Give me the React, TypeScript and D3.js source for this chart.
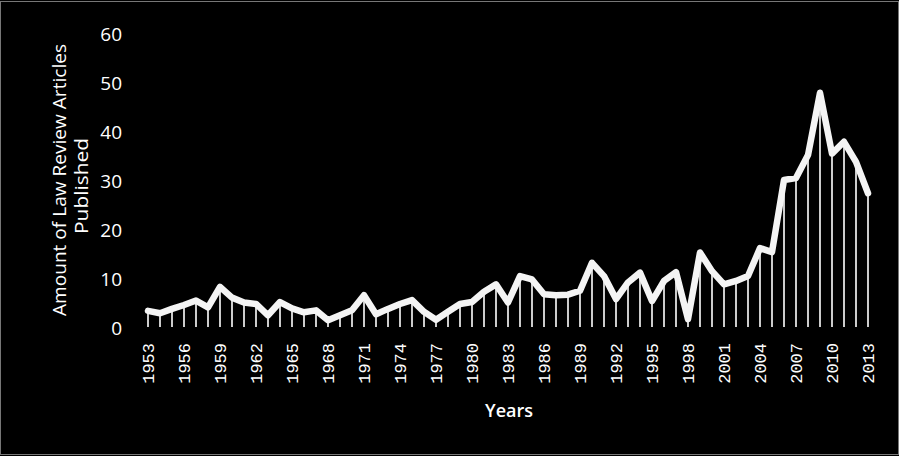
import React from 'react';
import * as d3 from 'd3';

// years 1953..2013, one value per year
const years: number[] = d3.range(1953, 2014);
const articles: number[] = [
  3.5, 3.0, 3.9, 4.7, 5.6, 4.2, 8.4, 6.2, 5.2, 4.9,
  2.6, 5.3, 4.0, 3.2, 3.6, 1.6, 2.6, 3.6, 6.7, 2.8,
  3.9, 4.9, 5.7, 3.3, 1.7, 3.3, 4.9, 5.3, 7.4, 8.9,
  5.2, 10.6, 9.9, 6.9, 6.7, 6.8, 7.6, 13.3, 10.6, 5.9,
  9.3, 11.3, 5.5, 9.6, 11.4, 1.8, 15.4, 11.6, 8.9, 9.6,
  10.6, 16.3, 15.5, 30.2, 30.6, 35.3, 48.0, 35.6, 38.0, 33.9,
  27.5,
];
const yTicks: number[] = [0, 10, 20, 30, 40, 50, 60];
const xTickYears: number[] = d3.range(1953, 2014, 3);

const W = 899;
const H = 456;

const App: React.FC = () => {
  const x = d3.scaleLinear().domain([1953, 2013]).range([148, 868]);
  const y = d3.scaleLinear().domain([0, 60]).range([328, 34]);

  const points = years.map((yr, i) => ({ yr, v: articles[i] }));
  const line = d3.line<{ yr: number; v: number }>()
    .x(d => x(d.yr))
    .y(d => y(d.v));

  const sans = "'Open Sans', 'Noto Sans', sans-serif";
  const mono = "'Liberation Mono', 'DejaVu Sans Mono', monospace";

  return (
    <svg width={W} height={H} style={{ position: 'absolute', left: 0, top: 0, display: 'block' }}>
      <rect x={0} y={0} width={W} height={H} fill="#000" />
      <rect x={0.5} y={1.5} width={W - 1} height={H - 3} fill="none" stroke="#777" strokeWidth={1} />

      {/* y axis labels */}
      {yTicks.map(t => (
        <text key={t} x={122} y={y(t)} dy="0.35em" textAnchor="end"
          fill="#fff" fontFamily={sans} fontSize={19}>{t}</text>
      ))}

      {/* axis title */}
      <text transform={`translate(66,180) rotate(-90)`} textAnchor="middle"
        fill="#fff" fontFamily={sans} fontSize={19}
        textLength={272} lengthAdjust="spacingAndGlyphs">Amount of Law Review Articles</text>
      <text transform={`translate(88,186) rotate(-90)`} textAnchor="middle"
        fill="#fff" fontFamily={sans} fontSize={19}
        textLength={96} lengthAdjust="spacingAndGlyphs">Published</text>

      {/* drop lines */}
      {points.map(p => (
        <line key={p.yr} x1={x(p.yr)} x2={x(p.yr)} y1={y(p.v)} y2={y(0) - 1}
          stroke="#fff" strokeWidth={1.6} />
      ))}

      {/* series */}
      <path d={line(points) || ''} fill="none" stroke="#f4f4f4" strokeWidth={6.5}
        strokeLinejoin="round" strokeLinecap="round" />

      {/* x tick labels */}
      {xTickYears.map(yr => (
        <text key={yr} transform={`translate(${x(yr) + 1.5},343) rotate(-90)`}
          textAnchor="end" dominantBaseline="central"
          fill="#fff" fontFamily={mono} fontSize={17}>{yr}</text>
      ))}

      <text x={509} y={417} textAnchor="middle" fill="#fff" fontFamily={sans}
        fontSize={18} fontWeight={600}>Years</text>
    </svg>
  );
};

export default App;
